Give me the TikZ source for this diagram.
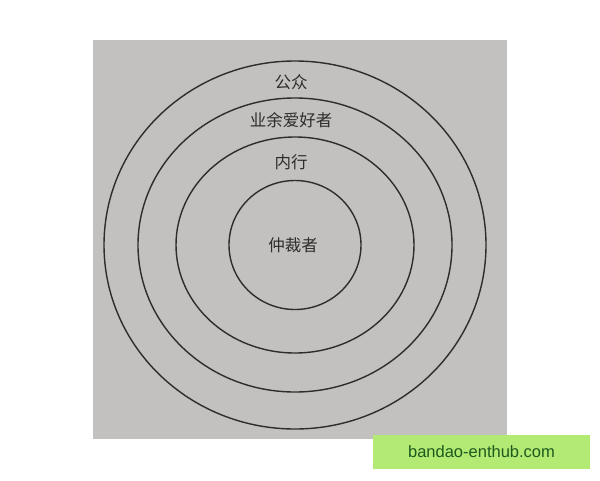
\documentclass[tikz,border=0pt]{standalone}
\usepackage{fontspec}
\usepackage{tikz}
\newfontfamily\cjk{Noto Sans CJK SC}
\setsansfont{Liberation Sans}
\definecolor{paper}{HTML}{C2C1BF}
\definecolor{ink}{HTML}{2E2D2C}
\definecolor{tagbg}{HTML}{B2EA74}
\definecolor{tagfg}{HTML}{1E5A1E}
\tikzset{every node/.style={font=\cjk\fontsize{16.5}{16.5}\selectfont,text=ink},
ring/.style={draw=ink,line width=1.4pt},
layer/.style={inner sep=0pt}}
\begin{document}
\begin{tikzpicture}[x=1pt,y=-1pt]
\useasboundingbox (0,0) rectangle (600,480);
\fill[paper] (93,40) rectangle (507,439);
\coordinate (c) at (295,245);
\draw[ring] (c) ellipse [x radius=191,y radius=184];
\draw[ring] (c) ellipse [x radius=157,y radius=147];
\draw[ring] (c) ellipse [x radius=119,y radius=108];
\draw[ring] (c) ellipse [x radius=66,y radius=64.5];
\node[layer] (public) at (291,82) {公众};
\node[layer] (amateur) at (291,120) {业余爱好者};
\node[layer] (insider) at (291,162) {内行};
\node[layer] (arbiter) at (293,245) {仲裁者};
% watermark
\fill[tagbg] (373,435) rectangle (590,469);
\node[font=\sffamily\fontsize{16.5}{16.5}\selectfont,text=tagfg] (tag) at (481.5,452) {bandao-enthub.com};
\end{tikzpicture}
\end{document}
